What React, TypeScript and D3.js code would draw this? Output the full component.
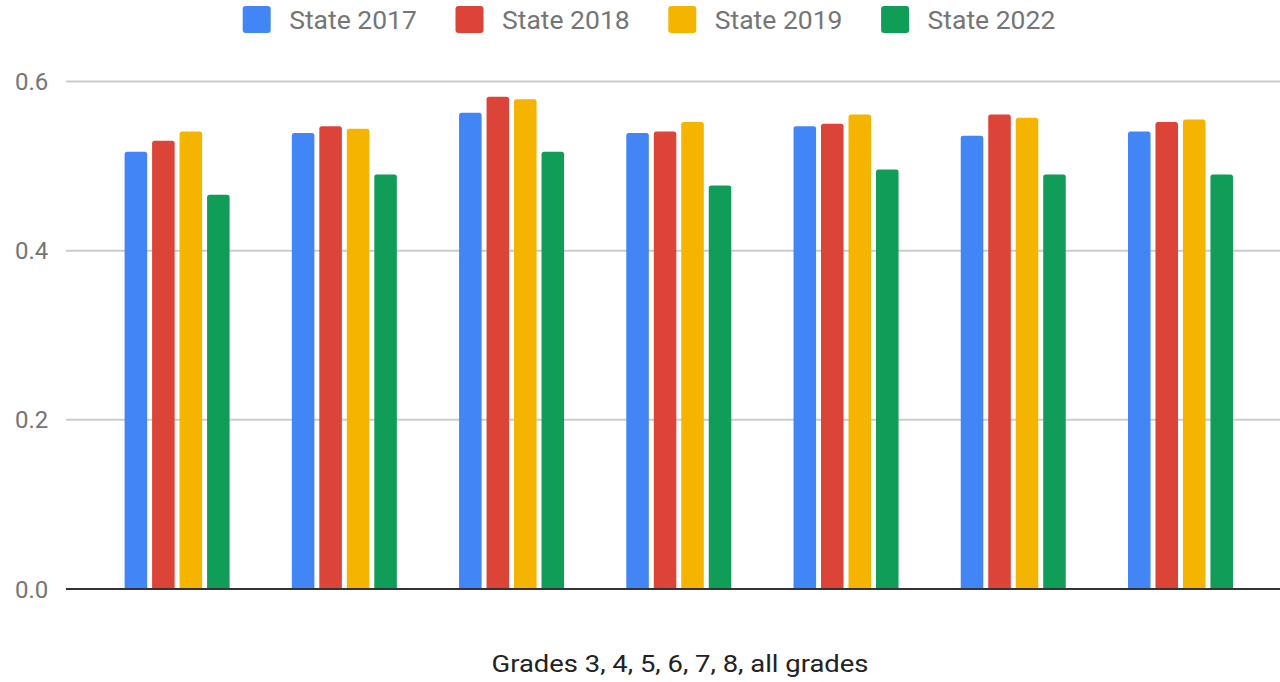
import React from "react";
import * as d3 from "d3";

const categories = ["3", "4", "5", "6", "7", "8", "all grades"];
const seriesNames = ["State 2017", "State 2018", "State 2019", "State 2022"];
const colors = ["#4285F4", "#DB4437", "#F4B400", "#0F9D58"];
const state2017 = [0.517, 0.539, 0.563, 0.539, 0.547, 0.536, 0.541];
const state2018 = [0.530, 0.547, 0.582, 0.541, 0.550, 0.561, 0.552];
const state2019 = [0.541, 0.544, 0.579, 0.552, 0.561, 0.557, 0.555];
const state2022 = [0.466, 0.490, 0.517, 0.477, 0.496, 0.490, 0.490];
const yTicks = [0, 0.2, 0.4, 0.6];
const xTitle = "Grades 3, 4, 5, 6, 7, 8, all grades";

const series = [state2017, state2018, state2019, state2022];

export default function App() {
  const W = 1280;
  const H = 682;
  const x = d3.scaleBand<string>().domain(categories).range([93.5, 1264.1]).paddingInner(0).paddingOuter(0);
  const inner = d3.scaleBand<string>().domain(seriesNames).range([0, 105]).paddingInner(0.18);
  const y = d3.scaleLinear().domain([0, 0.6]).range([589, 81.5]);
  const font = "Roboto, 'Noto Sans', sans-serif";
  const legendX = [242.7, 455.5, 668.3, 881.1];

  return (
    <svg width={W} height={H} style={{ position: "absolute", left: 0, top: 0, background: "#fff" }}>
      {yTicks.filter((t) => t > 0).map((t) => (
        <line key={t} x1={66} x2={1280} y1={y(t)} y2={y(t)} stroke="#cccccc" strokeWidth={2} />
      ))}
      {yTicks.map((t) => (
        <text key={"l" + t} x={15} y={y(t) + 8.5} fontFamily={font} fontSize={24} fill="#757575">
          {d3.format(".1f")(t)}
        </text>
      ))}
      {categories.map((c, i) => {
        const gx = (x(c) as number) + x.bandwidth() / 2 - 52.5;
        return series.map((s, j) => {
          const bx = gx + (inner(seriesNames[j]) as number);
          const bw = inner.bandwidth();
          const top = y(s[i]);
          const r = 2.5;
          const bottom = y(0);
          const d = `M${bx},${bottom} L${bx},${top + r} Q${bx},${top} ${bx + r},${top} L${bx + bw - r},${top} Q${bx + bw},${top} ${bx + bw},${top + r} L${bx + bw},${bottom} Z`;
          return <path key={c + j} d={d} fill={colors[j]} />;
        });
      })}
      <line x1={66} x2={1280} y1={y(0)} y2={y(0)} stroke="#333333" strokeWidth={2} />
      {seriesNames.map((n, j) => (
        <g key={n}>
          <rect x={legendX[j]} y={6} width={28} height={27} rx={3} fill={colors[j]} />
          <text x={legendX[j] + 46.5} y={29} fontFamily={font} fontSize={26.5} fill="#757575">
            {n}
          </text>
        </g>
      ))}
      <text x={491.5} y={672} fontFamily={font} fontSize={24.5} fill="#222222" textLength={377} lengthAdjust="spacingAndGlyphs">
        {xTitle}
      </text>
    </svg>
  );
}
